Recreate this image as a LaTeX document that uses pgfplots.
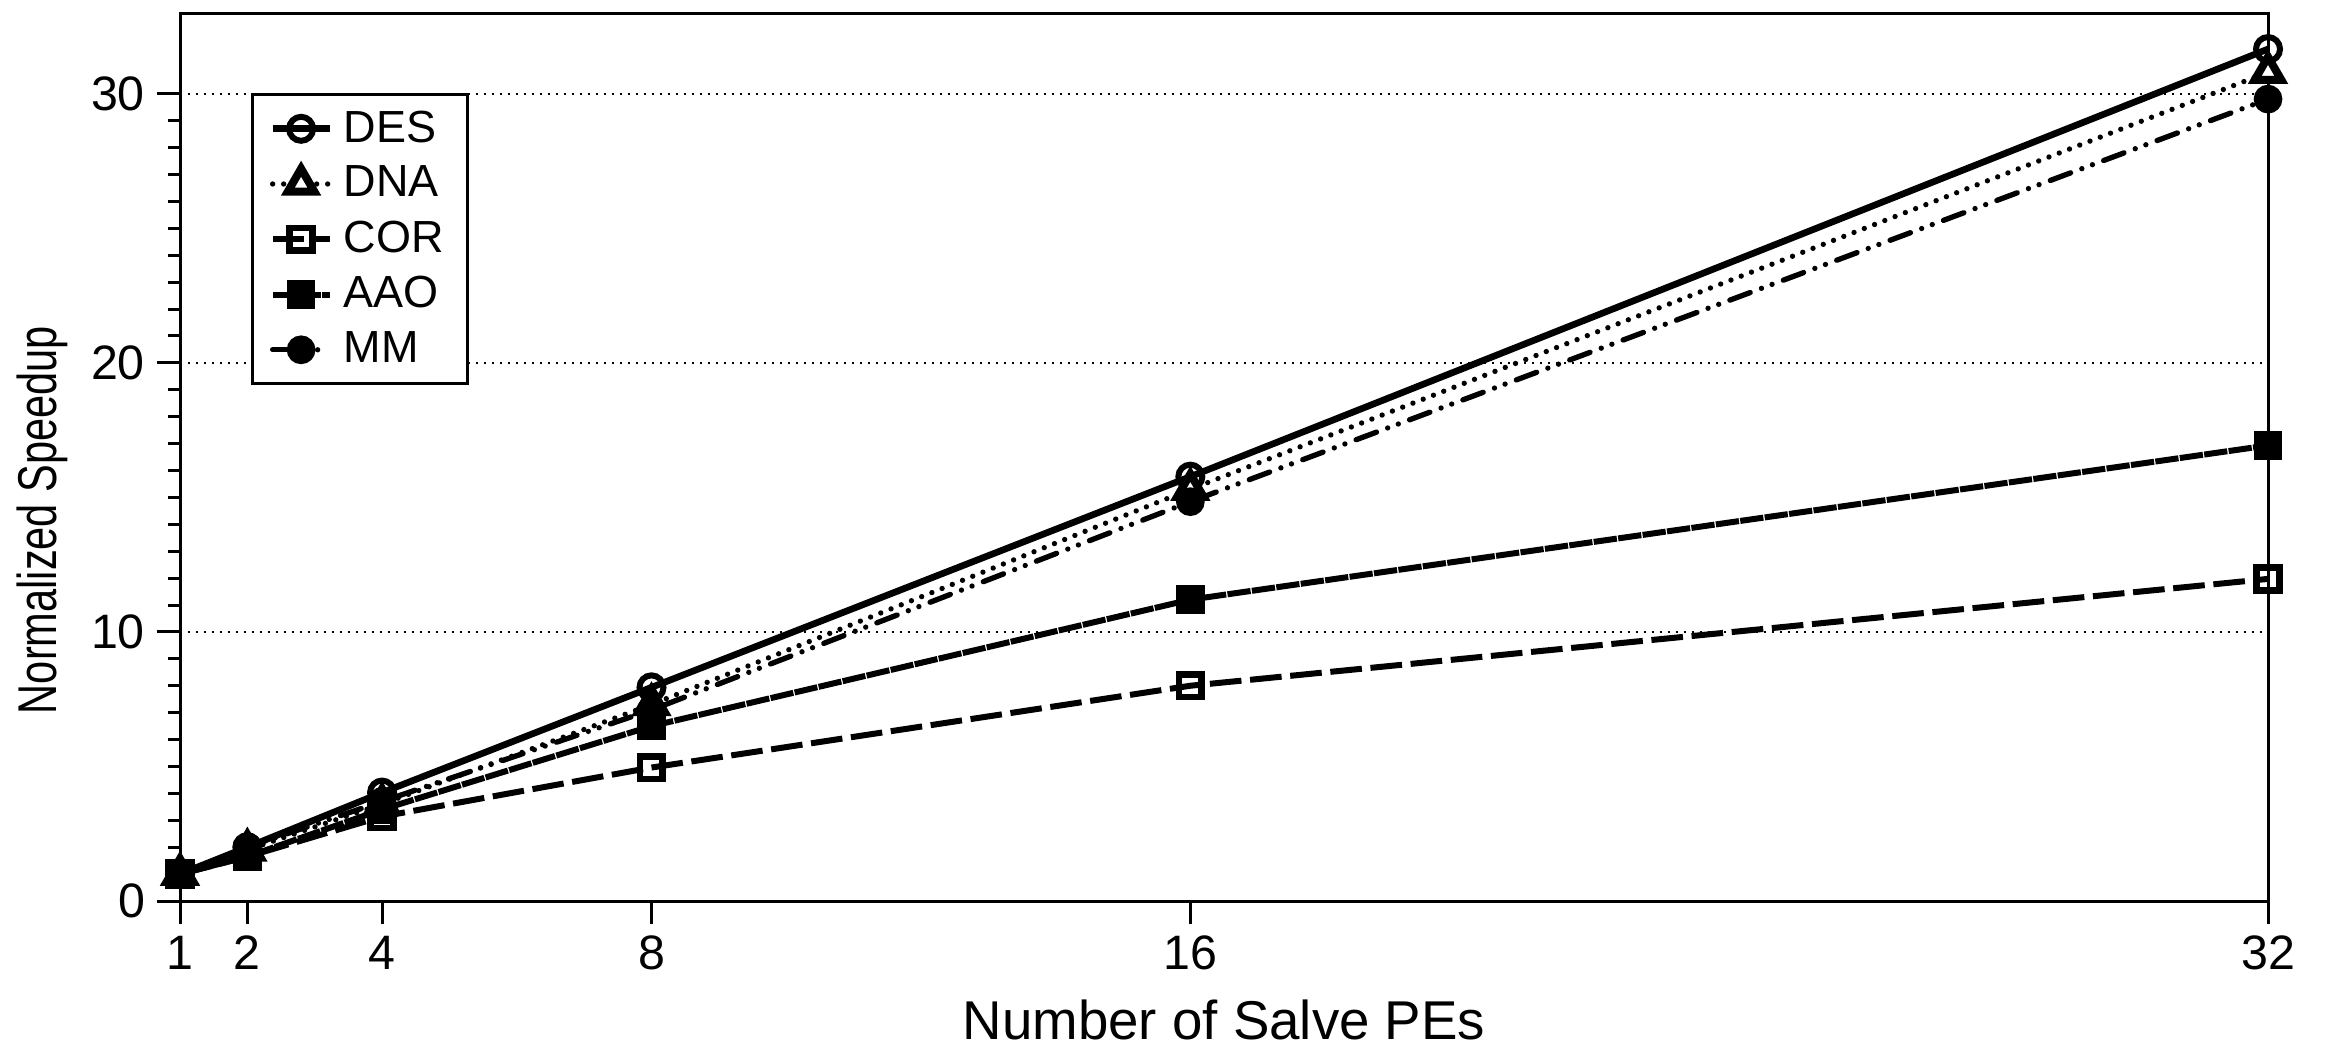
\documentclass[border=0pt]{standalone}
\usepackage{pgfplots}
\pgfplotsset{compat=1.18}
\usepackage{fontspec}
\setmainfont{Liberation Sans}
\begin{document}
\begin{tikzpicture}
\begin{axis}[
  scale only axis,
  width=626.4pt, height=266.4pt,
  xmin=1, xmax=32, ymin=0, ymax=33,
  xtick={1,2,4,8,16,32},
  ytick={0,10,20,30},
  minor y tick num=9,
  tick align=outside,
  xtick pos=bottom, ytick pos=left,
  major tick length=7pt, minor tick length=3.6pt,
  every tick/.style={black, line width=0.9pt},
  axis line style={line width=0.9pt},
  /pgf/number format/assume math mode=true,
  ticklabel style={font=\fontsize{14.5}{16}\selectfont},
  ymajorgrids,
  major grid style={black, line width=0.6pt, dash pattern=on 0.6pt off 1.8pt},
  xlabel={Number of Salve PEs},
  ylabel={\scalebox{0.76}[1]{Normalized Speedup}},
  label style={font=\fontsize{16.4}{18}\selectfont},
  xlabel style={at={(axis description cs:0.5,0)}, anchor=center, yshift=-35.7pt},
  ylabel style={at={(axis description cs:0,0.429)}, anchor=center, xshift=0pt, yshift=41.4pt},
  legend style={at={(rel axis cs:0.034,0.91)}, anchor=north west, draw=black, line width=1pt,
    font=\fontsize{13.5}{16.6}\selectfont, inner xsep=5pt, inner ysep=2.8pt, row sep=1.7pt,
    /tikz/every odd column/.append style={column sep=1.3pt},
    /tikz/every even column/.append style={column sep=8.7pt}},
  legend cell align=left,
]
\addplot[black, line width=2pt, mark=o, mark size=3.6pt, mark options={solid, line width=1.8pt, fill=white}]
  coordinates {(1,1) (2,2) (4,4.03) (8,7.94) (16,15.77) (32,31.66)};
\addlegendentry{DES}
\addplot[black, line width=1.6pt, line cap=round, dash pattern=on 0pt off 3.3pt, mark=triangle*, mark size=4.6pt, mark options={solid, line width=2.4pt, fill=white}]
  coordinates {(1,1) (2,1.9) (4,3.6) (8,7.3) (16,15.3) (32,30.8)};
\addlegendentry{DNA}
\addplot[black, line width=1.8pt, dash pattern=on 9.5pt off 2.6pt, mark=square, mark size=3.4pt, mark options={solid, line width=2pt, fill=white}]
  coordinates {(1,1) (2,1.65) (4,3.14) (8,4.96) (16,8.0) (32,11.97)};
\addlegendentry{COR}
\addplot[black, line width=1.8pt, dash pattern=on 7pt off 0.4pt, mark=square*, mark size=3.4pt, mark options={solid}]
  coordinates {(1,1) (2,1.65) (4,3.4) (8,6.5) (16,11.2) (32,16.93)};
\addlegendentry{AAO}
\addplot[black, line width=1.6pt, line cap=round, dash pattern=on 6.5pt off 3.6pt on 0pt off 3.4pt on 0pt off 3.6pt, mark=*, mark size=3.5pt, mark options={solid}]
  coordinates {(1,1) (2,2.0) (4,3.7) (8,7.1) (16,14.84) (32,29.8)};
\addlegendentry{MM}
\end{axis}
\pgfresetboundingbox
\path[use as bounding box] (-54pt,-43.5pt) rectangle (643.5pt,270.3pt);
\end{tikzpicture}
\end{document}
